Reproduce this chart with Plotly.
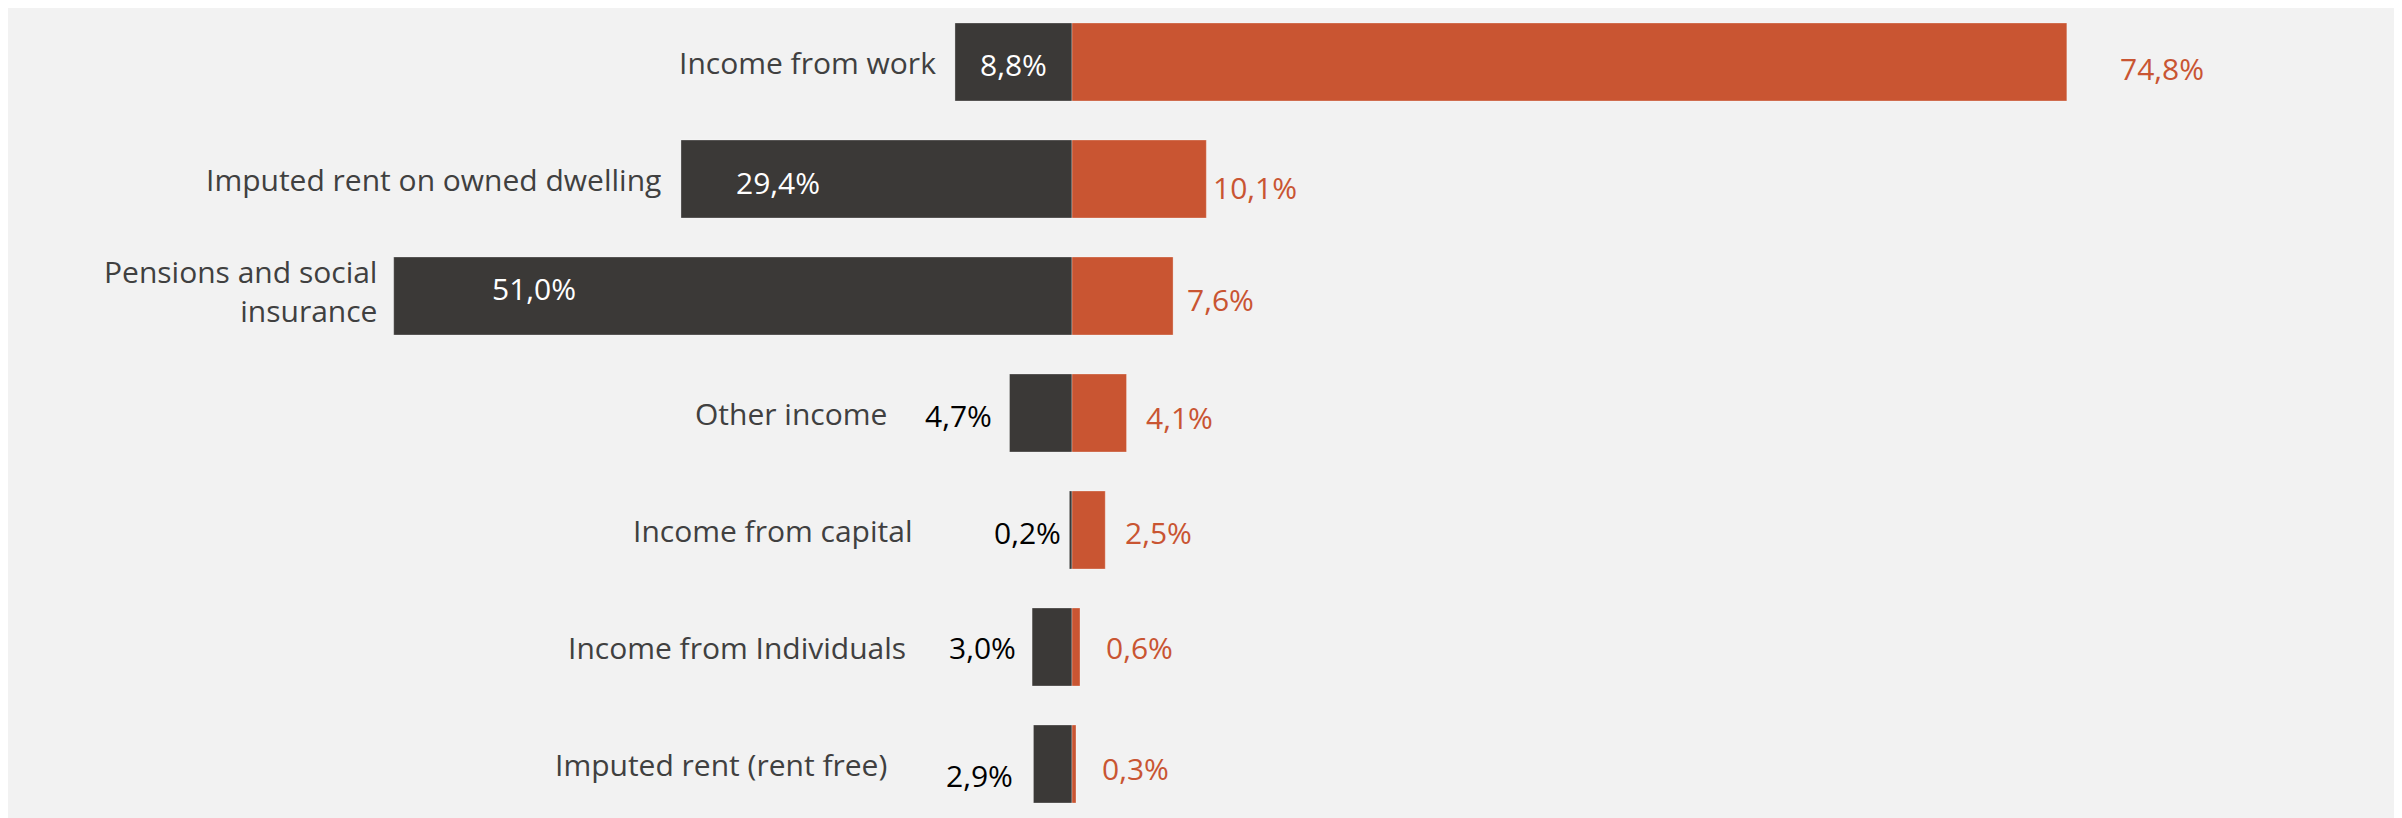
import plotly.graph_objects as go

# ---- data ----
categories = [
    "Income from work",
    "Imputed rent on owned dwelling",
    "Pensions and social<br>insurance",
    "Other income",
    "Income from capital",
    "Income from Individuals",
    "Imputed rent (rent free)",
]
dark_values = [8.8, 29.4, 51.0, 4.7, 0.2, 3.0, 2.9]
orange_values = [74.8, 10.1, 7.6, 4.1, 2.5, 0.6, 0.3]
series_names = ["Series 1", "Series 2"]

# ---- style ----
DARK = "#3b3937"
ORANGE = "#c95532"
TEXT = "#404040"
BG = "#f2f2f2"
FONT = "Open Sans"
FS = 30

# label placement styles (pixel offsets)
cat_gap = [17, 18, 15, 120, 155, 124, 144]
cat_yshift = [0, 0, 5, 0, 0, 0, 0]
# dark label: (mode, xshift, color, yshift)
dark_lab = [
    ("center", 0, "white", -2),
    ("left", 53, "white", -3),
    ("left", 96, "white", 8),
    ("right", -15, "black", -2),
    ("right", -6, "black", -2),
    ("right", -14, "black", 0),
    ("right", -18, "black", -11),
]
orange_gap = [51, 5, 12, 17, 18, 24, 24]
orange_yshift = [-6, -8, -3, -4, -2, 0, -4]


def pct(v):
    return f"{v:.1f}".replace(".", ",") + "%"


fig = go.Figure()
fig.add_trace(go.Bar(
    y=categories, x=[-v for v in dark_values], orientation="h",
    name=series_names[0], width=0.667,
    marker=dict(color=DARK, line=dict(color="rgba(255,255,255,0.3)", width=1)),
    hoverinfo="skip",
))
fig.add_trace(go.Bar(
    y=categories, x=orange_values, orientation="h",
    name=series_names[1], width=0.667,
    marker=dict(color=ORANGE, line=dict(color="rgba(255,255,255,0.3)", width=1)),
    hoverinfo="skip",
))

annotations = []
for i, cat in enumerate(categories):
    d = dark_values[i]
    o = orange_values[i]
    # category label
    annotations.append(dict(
        x=-d, y=cat, xref="x", yref="y", text=cat, showarrow=False,
        xanchor="right", align="right", xshift=-cat_gap[i], yshift=cat_yshift[i],
        font=dict(family=FONT, size=FS, color=TEXT),
    ))
    # dark value label
    mode, xs, col, ys = dark_lab[i]
    ax = -d / 2 if mode == "center" else -d
    annotations.append(dict(
        x=ax, y=cat, xref="x", yref="y", text=pct(d), showarrow=False,
        xanchor=mode, xshift=xs, yshift=ys,
        font=dict(family=FONT, size=FS, color=col),
    ))
    # orange value label
    annotations.append(dict(
        x=o, y=cat, xref="x", yref="y", text=pct(o), showarrow=False,
        xanchor="left", xshift=orange_gap[i], yshift=orange_yshift[i],
        font=dict(family=FONT, size=FS, color=ORANGE),
    ))

fig.update_layout(
    width=2394, height=810,
    margin=dict(l=0, r=0, t=0, b=0),
    paper_bgcolor=BG, plot_bgcolor=BG,
    barmode="relative", showlegend=False,
    annotations=annotations,
    font=dict(family=FONT, size=FS, color=TEXT),
    xaxis=dict(range=[-80, 100], showticklabels=False, showgrid=False,
               zeroline=False, fixedrange=True),
    yaxis=dict(type="category", range=[6.4615, -0.4615], showticklabels=False,
               showgrid=False, zeroline=False, fixedrange=True),
)

fig.write_html("out.html", config={"displayModeBar": False})
